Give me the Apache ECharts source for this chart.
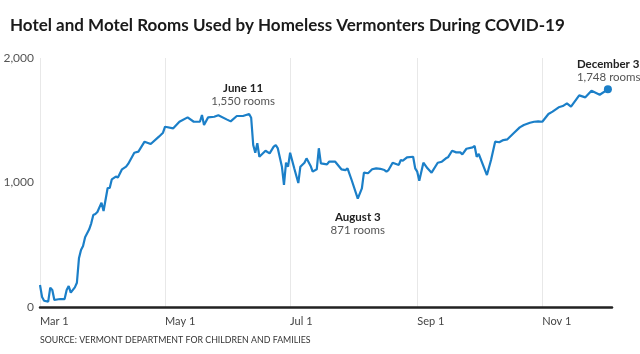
<!DOCTYPE html>
<html>
<head>
<meta charset="utf-8">
<script src="https://cdn.jsdelivr.net/npm/echarts@6/dist/echarts.min.js"></script>
<style>
  html, body { margin: 0; padding: 0; background: #fff; }
  #chart { width: 640px; height: 354px; }
</style>
</head>
<body>
<div id="chart"></div>
<script>
const dates = [
  "2020-03-01", "2020-03-02", "2020-03-03", "2020-03-05", "2020-03-06", "2020-03-07", "2020-03-08", "2020-03-10",
  "2020-03-11", "2020-03-13", "2020-03-14", "2020-03-15", "2020-03-16", "2020-03-18", "2020-03-19", "2020-03-20",
  "2020-03-21", "2020-03-22", "2020-03-23", "2020-03-25", "2020-03-26", "2020-03-27", "2020-03-28", "2020-03-29",
  "2020-03-31", "2020-04-01", "2020-04-03", "2020-04-04", "2020-04-05", "2020-04-07", "2020-04-08", "2020-04-10",
  "2020-04-12", "2020-04-13", "2020-04-16", "2020-04-18", "2020-04-21", "2020-04-24", "2020-04-28", "2020-04-30",
  "2020-05-01", "2020-05-05", "2020-05-08", "2020-05-12", "2020-05-15", "2020-05-18", "2020-05-19", "2020-05-20",
  "2020-05-22", "2020-05-25", "2020-05-27", "2020-05-31", "2020-06-02", "2020-06-05", "2020-06-08", "2020-06-11",
  "2020-06-12", "2020-06-13", "2020-06-14", "2020-06-15", "2020-06-16", "2020-06-19", "2020-06-21", "2020-06-23",
  "2020-06-24", "2020-06-25", "2020-06-27", "2020-06-28", "2020-06-29", "2020-06-30", "2020-07-01", "2020-07-03",
  "2020-07-05", "2020-07-06", "2020-07-08", "2020-07-09", "2020-07-11", "2020-07-12", "2020-07-14", "2020-07-15",
  "2020-07-16", "2020-07-19", "2020-07-20", "2020-07-23", "2020-07-26", "2020-07-28", "2020-07-29", "2020-07-31",
  "2020-08-03", "2020-08-05", "2020-08-06", "2020-08-08", "2020-08-10", "2020-08-12", "2020-08-14", "2020-08-16",
  "2020-08-17", "2020-08-18", "2020-08-20", "2020-08-23", "2020-08-24", "2020-08-25", "2020-08-27", "2020-08-30",
  "2020-08-31", "2020-09-01", "2020-09-02", "2020-09-04", "2020-09-06", "2020-09-08", "2020-09-11", "2020-09-13",
  "2020-09-15", "2020-09-16", "2020-09-18", "2020-09-20", "2020-09-22", "2020-09-23", "2020-09-25", "2020-09-28",
  "2020-09-29", "2020-09-30", "2020-10-01", "2020-10-05", "2020-10-07", "2020-10-09", "2020-10-11", "2020-10-13",
  "2020-10-15", "2020-10-18", "2020-10-21", "2020-10-23", "2020-10-26", "2020-10-28", "2020-10-30", "2020-11-01",
  "2020-11-04", "2020-11-06", "2020-11-09", "2020-11-11", "2020-11-13", "2020-11-15", "2020-11-19", "2020-11-22",
  "2020-11-25", "2020-11-29", "2020-12-03"
]
const rooms = [
  177, 80, 50, 43, 155, 137, 56, 62,
  64, 64, 137, 169, 115, 158, 195, 391,
  458, 490, 560, 624, 672, 739, 747, 763,
  838, 771, 956, 956, 1025, 1047, 1041, 1106,
  1127, 1149, 1239, 1248, 1328, 1309, 1368, 1400,
  1448, 1435, 1488, 1523, 1488, 1488, 1542, 1462,
  1523, 1528, 1540, 1507, 1491, 1534, 1534, 1550,
  1520, 1301, 1239, 1315, 1207, 1255, 1234, 1288,
  1301, 1274, 1127, 980, 1159, 1127, 1239, 1114,
  996, 1127, 1159, 1194, 1133, 1087, 1106, 1275,
  1154, 1146, 1167, 1167, 1106, 1100, 1114, 1020,
  871, 953, 1079, 1074, 1106, 1114, 1110, 1100,
  1087, 1100, 1159, 1141, 1181, 1175, 1202, 1207,
  1114, 1087, 1015, 1159, 1114, 1079, 1159, 1167,
  1194, 1202, 1255, 1242, 1242, 1226, 1271, 1282,
  1293, 1207, 1229, 1060, 1181, 1328, 1323, 1341,
  1347, 1395, 1443, 1462, 1480, 1488, 1491, 1488,
  1550, 1569, 1604, 1614, 1636, 1609, 1700, 1684,
  1737, 1705, 1748
]
const tickDates = ["2020-03-01", "2020-05-01", "2020-07-01", "2020-09-01", "2020-11-01"]
const tickNames = ["Mar 1", "May 1", "Jul 1", "Sep 1", "Nov 1"]
const yTicks = [0, 1000, 2000]
const notes = [
  {date: "2020-06-11", value: 1550, title: "June 11", text: "1,550 rooms"},
  {date: "2020-08-03", value: 871, title: "August 3", text: "871 rooms"},
  {date: "2020-12-03", value: 1748, title: "December 3", text: "1,748 rooms"}
]

const ts = d => Date.parse(d + "T00:00:00Z")
const tickTs = tickDates.map(ts)
const fmtNum = v => v.toLocaleString("en-US")

const font = "Lato, 'Noto Sans', sans-serif"
const blue = "#1b7fc8"

// label placement per annotation (June above, August below, December above-left)
const notePlace = [
  {position: "top", distance: 6, offset: [-6, 0], align: "center"},
  {position: "bottom", distance: 12, offset: [0, 0], align: "center"},
  {position: [-27, -2], align: "left", verticalAlign: "bottom"}
]

const chart = echarts.init(document.getElementById("chart"))
chart.setOption({
  animation: false,
  textStyle: {fontFamily: font},
  title: {
    text: "Hotel and Motel Rooms Used by Homeless Vermonters During COVID-19",
    left: 5, top: 12,
    textStyle: {fontFamily: font, fontSize: 17, fontWeight: "bold", color: "#1a1a1a"}
  },
  graphic: [{
    type: "text", left: 40, top: 336,
    style: {text: "SOURCE: VERMONT DEPARTMENT FOR CHILDREN AND FAMILIES", fontFamily: font, fontSize: 8.8, fill: "#333"}
  }],
  grid: {left: 40, right: 28, top: 58, bottom: 47},
  xAxis: {
    type: "value",
    min: ts("2020-03-01"),
    max: ts("2020-12-05"),
    axisLine: {show: true, onZero: false, lineStyle: {color: "#222", width: 2.5}},
    axisTick: {show: false, customValues: tickTs},
    axisLabel: {
      customValues: tickTs,
      align: "left",
      margin: 9,
      fontSize: 11,
      color: "#444",
      formatter: v => tickNames[tickTs.indexOf(v)] || ""
    },
    splitLine: {show: true, lineStyle: {color: "#e8e8e8", width: 1}}
  },
  yAxis: {
    type: "value",
    min: yTicks[0],
    max: yTicks[yTicks.length - 1],
    interval: 1000,
    axisLine: {show: false},
    axisTick: {show: false},
    splitLine: {show: false},
    axisLabel: {fontSize: 12, color: "#555", margin: 6, formatter: fmtNum}
  },
  series: [{
    type: "line",
    data: dates.map((d, i) => [ts(d), rooms[i]]),
    showSymbol: false,
    lineStyle: {color: blue, width: 2.2},
    itemStyle: {color: blue},
    markPoint: {
      symbol: "circle",
      data: notes.map((n, i) => ({
        coord: [ts(n.date), n.value],
        symbolSize: i === notes.length - 1 ? 8 : 0,
        itemStyle: {color: blue},
        label: Object.assign({
          show: true,
          formatter: "{a|" + n.title + "}\n{b|" + n.text + "}",
          lineHeight: 13,
          rich: {
            a: {fontFamily: font, fontSize: 11.5, fontWeight: "bold", color: "#222", lineHeight: 13},
            b: {fontFamily: font, fontSize: 11.5, color: "#555", lineHeight: 13}
          }
        }, notePlace[i])
      }))
    }
  }]
})
</script>
</body>
</html>
